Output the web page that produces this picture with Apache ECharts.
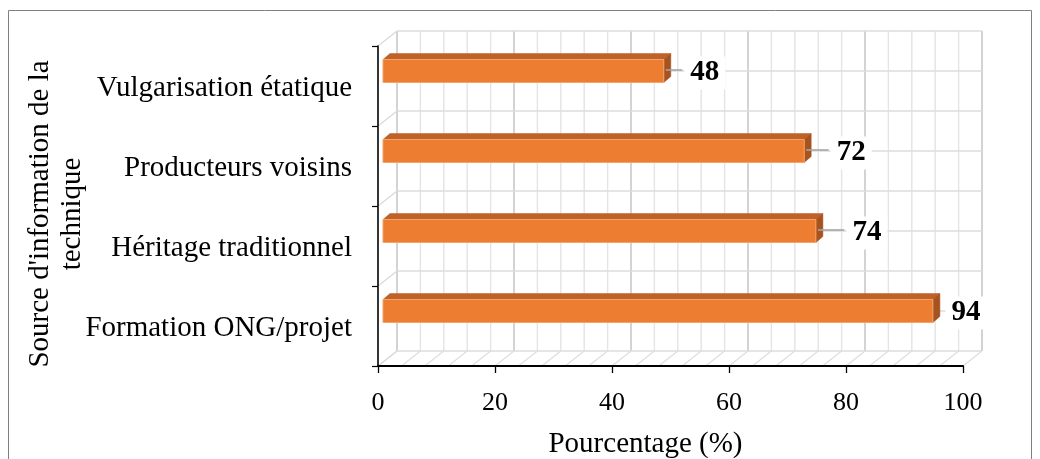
<!DOCTYPE html>
<html><head><meta charset="utf-8">
<script src="https://cdn.jsdelivr.net/npm/echarts@6/dist/echarts.min.js"></script>
<style>html,body{margin:0;padding:0;background:#fff}#c{width:1040px;height:459px}</style>
</head><body><div id="c"></div>
<script>
// ---- data ----
const categories = ['Vulgarisation étatique', 'Producteurs voisins', 'Héritage traditionnel', 'Formation ONG/projet'];
const values = [48, 72, 74, 94];
const xMin = 0, xMax = 100, xStep = 20;
const xTitle = 'Pourcentage (%)';
const yTitle = "Source d'information de la\ntechnique";

// ---- style / layout (not data) ----
const FONT = '"Liberation Serif", "Times New Roman", serif';
const labelDx = [41, 47, 51, 33];   // label centre distance beyond bar end (px)
const WALL_DX = 19, WALL_DY = -15;  // 3D depth of the back wall
const BAR = { dx: 5, dyFrac: -15 / 80, h: 23, depthX: 7, depthY: -6 };

const chart = echarts.init(document.getElementById('c'), null, { renderer: 'canvas' });

function renderWalls(params, api) {
  const band = api.size([0, 1])[1];
  const xp = v => api.coord([v, 0])[0];
  const top = api.coord([0, 0])[1] - band / 2;
  const bottom = top + categories.length * band;
  const kids = [];
  const line = (x1, y1, x2, y2, color, w) => kids.push({
    type: 'line', shape: { x1, y1, x2, y2 }, style: { stroke: color, lineWidth: w }, silent: true
  });
  for (let v = xMin; v <= xMax + 1e-9; v += 4) {
    const major = Math.abs(v % 20) < 1e-9;
    const x = xp(v) + WALL_DX;
    line(x, top + WALL_DY, x, bottom + WALL_DY, major ? '#cfcfcf' : '#e4e4e4', major ? 1.8 : 1.4);
    line(xp(v), bottom, x, bottom + WALL_DY, '#dedede', 1.2);
  }
  for (let k = 0; k <= categories.length * 2; k++) {
    const y = top + WALL_DY + k * band / 2;
    line(xp(xMin) + WALL_DX, y, xp(xMax) + WALL_DX, y, '#dcdcdc', 1.5);
  }
  for (let k = 0; k <= categories.length; k++) {
    const y = top + k * band;
    line(xp(xMin), y, xp(xMin) + WALL_DX, y + WALL_DY, '#dadada', 1.3);
  }
  return { type: 'group', children: kids };
}

function renderBar(params, api) {
  const v = api.value(0), ci = api.value(1);
  const band = api.size([0, 1])[1];
  const p0 = api.coord([0, ci]);
  const p1 = api.coord([v, ci]);
  const cy = p0[1] + band * BAR.dyFrac;
  const x0 = p0[0] + BAR.dx, x1 = p1[0] + BAR.dx;
  const y0 = cy - BAR.h / 2, y1 = cy + BAR.h / 2;
  const dx = BAR.depthX, dy = BAR.depthY;
  const kids = [
    { type: 'polygon', shape: { points: [[x0, y0], [x1, y0], [x1 + dx, y0 + dy], [x0 + dx, y0 + dy]] },
      style: { fill: '#bf6128', stroke: '#bf6128', lineWidth: 0.5 } },
    { type: 'polygon', shape: { points: [[x1, y0], [x1 + dx, y0 + dy], [x1 + dx, y1 + dy], [x1, y1]] },
      style: { fill: '#a6531f', stroke: '#a6531f', lineWidth: 0.5 } },
    { type: 'rect', shape: { x: x0, y: y0, width: x1 - x0, height: y1 - y0 },
      style: { fill: '#ed7d31', stroke: '#f3a46c', lineWidth: 1 } }
  ];
  const lx = x1 + labelDx[params.dataIndex];
  const txtW = 29;
  const gapStart = x1 + dx;
  const gapEnd = lx - txtW / 2 - 8;
  if (gapEnd - gapStart > 8) {
    kids.push({ type: 'line', shape: { x1: x1 + 2, y1: cy - 1, x2: gapEnd, y2: cy - 1 },
      style: { stroke: '#a6a6a6', lineWidth: 1.6 } });
  }
  kids.push({ type: 'text', x: lx, y: cy + 2,
    style: { text: String(v), fill: '#000', fontFamily: FONT, fontWeight: 'bold', fontSize: 29,
      align: 'center', verticalAlign: 'middle', backgroundColor: '#fff', padding: [2, 6] } });
  return { type: 'group', children: kids };
}

const option = {
  animation: false,
  backgroundColor: '#fff',
  grid: { left: 378, right: 77, top: 46, bottom: 93, containLabel: false, outerBoundsMode: 'none' },
  xAxis: {
    type: 'value', min: xMin, max: xMax, interval: xStep, z: 3,
    axisLine: { show: true, lineStyle: { color: '#000', width: 2 } },
    axisTick: { show: true, length: 7, lineStyle: { color: '#000', width: 1.3 } },
    splitLine: { show: false },
    axisLabel: { color: '#000', fontFamily: FONT, fontSize: 26, margin: 24 },
    name: xTitle, nameLocation: 'middle', nameGap: 64,
    nameTextStyle: { color: '#000', fontFamily: FONT, fontSize: 29, padding: [0, 50, 0, 0] }
  },
  yAxis: {
    type: 'category', data: categories, inverse: true, z: 3,
    axisLine: { show: true, lineStyle: { color: '#000', width: 1.6 } },
    axisTick: { show: true, length: 6, lineStyle: { color: '#000', width: 1.2 } },
    splitLine: { show: false },
    axisLabel: { color: '#000', fontFamily: FONT, fontSize: 29, margin: 26,
      verticalAlign: 'top', lineHeight: 5 }
  },
  graphic: [
    { type: 'rect', shape: { x: 8.5, y: 10.5, width: 1023, height: 470 },
      style: { fill: 'none', stroke: '#808080', lineWidth: 1 }, z: -10, silent: true },
    { type: 'text', x: 56, y: 214, rotation: Math.PI / 2,
      style: { text: yTitle, fill: '#000', fontFamily: FONT, fontSize: 29, lineHeight: 32,
        align: 'center', verticalAlign: 'middle' } }
  ],
  series: [
    { type: 'custom', name: 'walls', z: 1, clip: false, silent: true,
      renderItem: renderWalls, data: [[0, 0]], encode: { x: 0, y: 1 } },
    { type: 'custom', name: 'bars', z: 4, clip: false,
      renderItem: renderBar, encode: { x: 0, y: 1 },
      data: values.map((v, i) => [v, i]) }
  ]
};
chart.setOption(option);
</script>
</body></html>
